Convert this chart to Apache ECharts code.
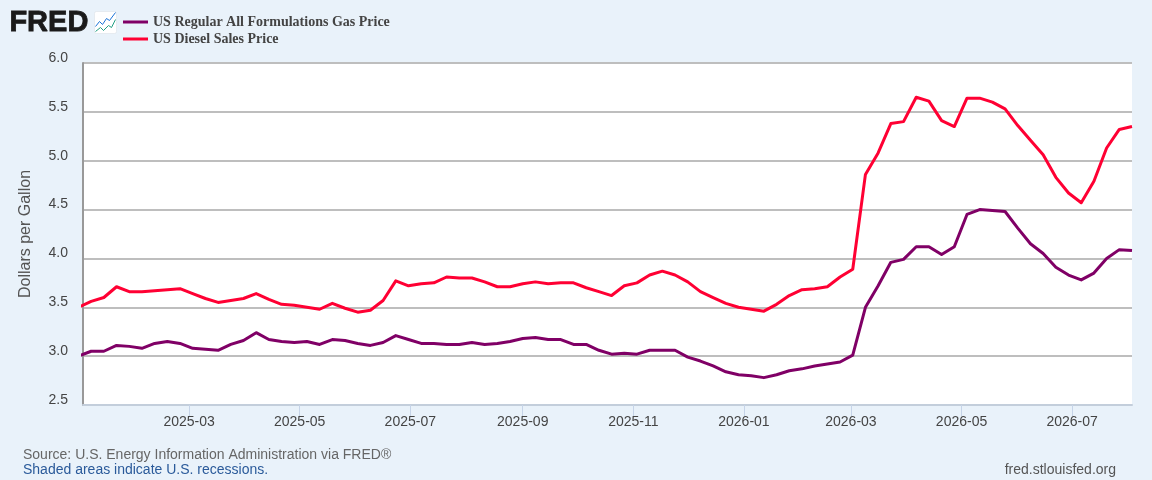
<!DOCTYPE html>
<html>
<head>
<meta charset="utf-8">
<style>html,body{margin:0;padding:0;background:#e9f2fa}#c{width:1152px;height:480px}</style>
<script src="https://cdn.jsdelivr.net/npm/echarts@6/dist/echarts.min.js"></script>
</head>
<body>
<div id="c"></div>
<script>
const dates = [
'2024-12-30','2025-01-06','2025-01-13','2025-01-20','2025-01-27','2025-02-03','2025-02-10','2025-02-17','2025-02-24',
'2025-03-03','2025-03-10','2025-03-17','2025-03-24','2025-03-31','2025-04-07','2025-04-14','2025-04-21','2025-04-28',
'2025-05-05','2025-05-12','2025-05-19','2025-05-26','2025-06-02','2025-06-09','2025-06-16','2025-06-23','2025-06-30',
'2025-07-07','2025-07-14','2025-07-21','2025-07-28','2025-08-04','2025-08-11','2025-08-18','2025-08-25','2025-09-01',
'2025-09-08','2025-09-15','2025-09-22','2025-09-29','2025-10-06','2025-10-13','2025-10-20','2025-10-27','2025-11-03',
'2025-11-10','2025-11-17','2025-11-24','2025-12-01','2025-12-08','2025-12-15','2025-12-22','2025-12-29','2026-01-05',
'2026-01-12','2026-01-19','2026-01-26','2026-02-02','2026-02-09','2026-02-16','2026-02-23','2026-03-02','2026-03-09',
'2026-03-16','2026-03-23','2026-03-30','2026-04-06','2026-04-13','2026-04-20','2026-04-27','2026-05-04','2026-05-11',
'2026-05-18','2026-05-25','2026-06-01','2026-06-08','2026-06-15','2026-06-22','2026-06-29','2026-07-06','2026-07-13',
'2026-07-20','2026-07-27','2026-08-03'];
const gasPrice = [
3.00,3.05,3.05,3.11,3.10,3.08,3.13,3.15,3.13,
3.08,3.07,3.06,3.12,3.16,3.24,3.17,3.15,3.14,
3.15,3.12,3.17,3.16,3.13,3.11,3.14,3.21,3.17,
3.13,3.13,3.12,3.12,3.14,3.12,3.13,3.15,3.18,
3.19,3.17,3.17,3.12,3.12,3.06,3.02,3.03,3.02,
3.06,3.06,3.06,2.99,2.95,2.90,2.84,2.81,2.80,
2.78,2.81,2.85,2.87,2.90,2.92,2.94,3.01,3.50,
3.72,3.96,3.99,4.12,4.12,4.04,4.12,4.45,4.50,
4.49,4.48,4.31,4.15,4.05,3.91,3.83,3.78,3.85,
4.00,4.09,4.08];
const dieselPrice = [
3.50,3.56,3.60,3.71,3.66,3.66,3.67,3.68,3.69,
3.64,3.59,3.55,3.57,3.59,3.64,3.58,3.53,3.52,
3.50,3.48,3.54,3.49,3.45,3.47,3.57,3.77,3.72,
3.74,3.75,3.81,3.80,3.80,3.76,3.71,3.71,3.74,
3.76,3.74,3.75,3.75,3.70,3.66,3.62,3.72,3.75,
3.83,3.87,3.83,3.76,3.66,3.60,3.54,3.50,3.48,
3.46,3.53,3.62,3.68,3.69,3.71,3.81,3.89,4.86,
5.08,5.38,5.40,5.65,5.61,5.41,5.35,5.64,5.64,
5.60,5.53,5.36,5.21,5.06,4.83,4.67,4.57,4.79,
5.13,5.32,5.35];
const tickLabels = ['2025-03','2025-05','2025-07','2025-09','2025-11','2026-01','2026-03','2026-05','2026-07'];
const xStart = '2025-01-01T12:00:00Z', xEnd = '2026-08-03T00:00:00Z';
const gasName = 'US Regular All Formulations Gas Price', dieselName = 'US Diesel Sales Price';

const toTime = s => Date.parse(s);
const tickTimes = tickLabels.map(toTime);
const chart = echarts.init(document.getElementById('c'), null, {renderer:'canvas'});
const sansFont = '"Liberation Sans", Arial, sans-serif';
const mk = (name, vals, color) => ({
  name, type:'line', showSymbol:false, symbol:'none', smooth:false, clip:true,
  data: dates.map((d,i)=>[toTime(d), vals[i]]),
  lineStyle:{color, width:3, join:'round'}, itemStyle:{color}, animation:false
});
chart.setOption({
  animation:false,
  backgroundColor:'#e9f2fa',
  grid:{left:83,right:20,top:63,bottom:75,show:true,backgroundColor:'#ffffff',borderWidth:0,containLabel:false},
  legend:{
    orient:'vertical', left:118, top:10, itemWidth:25, itemHeight:3, itemGap:3,
    icon:'rect',
    textStyle:{fontFamily:'"Liberation Serif", serif',fontWeight:'bold',fontSize:14,color:'#444444',padding:[0,0,0,0]},
    data:[gasName,dieselName], selectedMode:false
  },
  xAxis:{
    type:'value', min:toTime(xStart), max:toTime(xEnd), scale:true,
    axisLine:{show:true,lineStyle:{color:'#c3cedb',width:2}},
    axisTick:{show:true,length:11,customValues:tickTimes,lineStyle:{color:'#c6d4e8',width:1}},
    axisLabel:{customValues:tickTimes,margin:10,color:'#444444',fontFamily:sansFont,fontSize:14,hideOverlap:false,
      formatter:v=>{const i=tickTimes.indexOf(+v);return i>=0?tickLabels[i]:'';}},
    splitLine:{show:false}
  },
  yAxis:{
    type:'value', min:2.5, max:6, interval:0.5,
    name:'Dollars per Gallon', nameLocation:'middle', nameGap:49,
    nameTextStyle:{color:'#555555',fontFamily:sansFont,fontSize:16},
    axisLine:{show:true,lineStyle:{color:'#999999',width:2}},
    axisTick:{show:false},
    axisLabel:{margin:15,color:'#444444',fontFamily:sansFont,fontSize:14,verticalAlign:'bottom',lineHeight:10,formatter:v=>v.toFixed(1)},
    splitLine:{show:true,lineStyle:{color:'#bebebe',width:2}}
  },
  series:[mk(gasName,gasPrice,'#800066'),mk(dieselName,dieselPrice,'#ff0033')],
  graphic:[
    {type:'text',left:9,top:8,style:{text:'FRED',fontFamily:sansFont,fontWeight:'bold',fontSize:29,fill:'#1a1a1a',stroke:'#1a1a1a',lineWidth:0.8}},
    {type:'group',left:93,top:10,children:[
      {type:'rect',shape:{x:0,y:0,width:22,height:22,r:2},style:{fill:'#ffffff',stroke:'#d8dde3',lineWidth:0.5}},
      {type:'polyline',shape:{points:[[1,15],[5,10],[8,13],[12,7],[15,9],[21,1]]},style:{stroke:'#1a73d8',lineWidth:1,fill:null}},
      {type:'polyline',shape:{points:[[1,20],[6,16],[9,19],[14,14],[17,16],[21,8]]},style:{stroke:'#1f9e83',lineWidth:1,fill:null}}
    ]},
    {type:'text',left:23,top:448,style:{text:'Source: U.S. Energy Information Administration via FRED\u00AE',fontFamily:sansFont,fontSize:14,fill:'#666666'}},
    {type:'text',left:23,top:463,style:{text:'Shaded areas indicate U.S. recessions.',fontFamily:sansFont,fontSize:14,fill:'#2a5a9a'}},
    {type:'text',right:36,top:463,style:{text:'fred.stlouisfed.org',fontFamily:sansFont,fontSize:14,fill:'#555555'}}
  ]
});
</script>
</body>
</html>
